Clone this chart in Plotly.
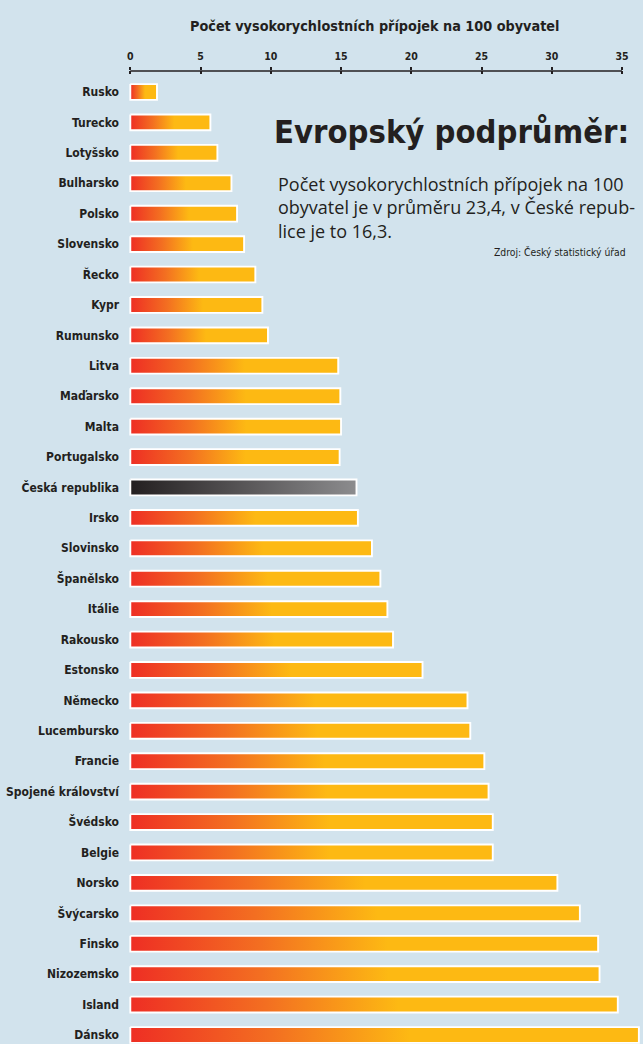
import plotly.graph_objects as go

countries = ["Rusko", "Turecko", "Lotyšsko", "Bulharsko", "Polsko", "Slovensko", "Řecko",
             "Kypr", "Rumunsko", "Litva", "Maďarsko", "Malta", "Portugalsko",
             "Česká republika", "Irsko", "Slovinsko", "Španělsko", "Itálie", "Rakousko",
             "Estonsko", "Německo", "Lucembursko", "Francie", "Spojené království",
             "Švédsko", "Belgie", "Norsko", "Švýcarsko", "Finsko", "Nizozemsko",
             "Island", "Dánsko"]
values = [1.9, 5.7, 6.2, 7.2, 7.6, 8.1, 8.9, 9.4, 9.8, 14.8, 14.95, 15.0, 14.9,
          16.1, 16.2, 17.2, 17.8, 18.3, 18.7, 20.8, 24.0, 24.2, 25.2, 25.5,
          25.8, 25.8, 30.4, 32.0, 33.3, 33.4, 34.7, 36.2]
highlight = "Česká republika"
x_ticks = [0, 5, 10, 15, 20, 25, 30, 35]

axis_title = "Počet vysokorychlostních přípojek na 100 obyvatel"
headline = "Evropský podprůměr:"
body_lines = ["Počet vysokorychlostních přípojek na 100",
              "obyvatel je v průměru 23,4, v České repub-",
              "lice je to 16,3."]
source = "Zdroj: Český statistický úřad"

# styling
W, H = 643, 1044
ML, MR, MT, MB = 128, 0, 71, 0
PW, PH = W - ML - MR, H - MT - MB
BG = "#D2E3ED"
DARK = "#231F20"
NARROW = "DejaVu Sans Condensed, sans-serif"
BODY = "Open Sans, Noto Sans, sans-serif"
warm = [[0.0, "#EE2E24"], [0.28, "#F36F21"], [0.55, "#FDB913"], [1.0, "#FDB913"]]
grey = [[0.0, "#231F20"], [1.0, "#8C8C8E"]]
half_h = 0.26

def px_x(px):
    return (px - ML) / PW

def px_y(py):
    return 1 - (py - MT) / PH

fig = go.Figure()
for i, (name, v) in enumerate(zip(countries, values)):
    fig.add_trace(go.Scatter(
        x=[0, v, v, 0, 0],
        y=[i - half_h, i - half_h, i + half_h, i + half_h, i - half_h],
        mode="lines", fill="toself",
        fillgradient=dict(type="horizontal",
                          colorscale=grey if name == highlight else warm),
        line=dict(color="white", width=1.9),
        hoverinfo="skip", showlegend=False,
    ))

# helper trace so the second (tick-only) axis is drawn
fig.add_trace(go.Scatter(x=[x_ticks[0]], y=[0], xaxis="x2", mode="markers",
                         marker=dict(opacity=0), hoverinfo="skip", showlegend=False))

x0 = -(130.3 - ML) / 14.049
x1 = x0 + PW / 14.049

fig.update_layout(
    width=W, height=H,
    margin=dict(l=ML, r=MR, t=MT, b=MB, pad=0),
    paper_bgcolor=BG, plot_bgcolor=BG,
    xaxis=dict(side="top", range=[x0, x1], tickvals=x_ticks, automargin=False,
               ticks="outside", ticklen=3, tickwidth=1.5, tickcolor=DARK,
               showline=False, showgrid=False, zeroline=False,
               tickfont=dict(family=NARROW, size=10.5, color=DARK, weight="bold"),
               ticklabelstandoff=3),
    xaxis2=dict(overlaying="x", matches="x", side="top", tickvals=x_ticks,
                automargin=False,
                ticks="inside", ticklen=3, tickwidth=1.5, tickcolor=DARK,
                showticklabels=False, showline=False, showgrid=False, zeroline=False),
    yaxis=dict(range=[31.296, -0.69], tickvals=list(range(len(countries))),
               ticktext=countries, ticks="", showgrid=False, zeroline=False,
               showline=False, ticklabelstandoff=8, automargin=False,
               tickfont=dict(family=NARROW, size=12, color=DARK, weight="bold")),
    shapes=[dict(type="line", xref="x", yref="paper", x0=x_ticks[0], x1=x_ticks[-1],
                 y0=1, y1=1, line=dict(color=DARK, width=1.5))],
)

ann = [
    dict(text=axis_title, x=px_x(374.5), y=px_y(26), xanchor="center", yanchor="middle",
         font=dict(family=NARROW, size=14.3, color=DARK, weight="bold")),
    dict(text=headline, x=px_x(631), y=px_y(132), xanchor="right", yanchor="middle",
         font=dict(family=NARROW, size=32.5, color=DARK, weight="bold")),
    dict(text=source, x=px_x(628), y=px_y(252), xanchor="right", yanchor="middle",
         font=dict(family=NARROW, size=10.3, color=DARK)),
    dict(text="<br>".join(body_lines), x=px_x(276), y=px_y(207), xanchor="left",
         yanchor="middle", align="left",
         font=dict(family=BODY, size=18, color=DARK)),
]
for a in ann:
    a.update(xref="paper", yref="paper", showarrow=False)
fig.update_layout(annotations=ann)

fig.write_html("out.html", config={"displayModeBar": False},
               post_script="document.body.style.margin='0';")
